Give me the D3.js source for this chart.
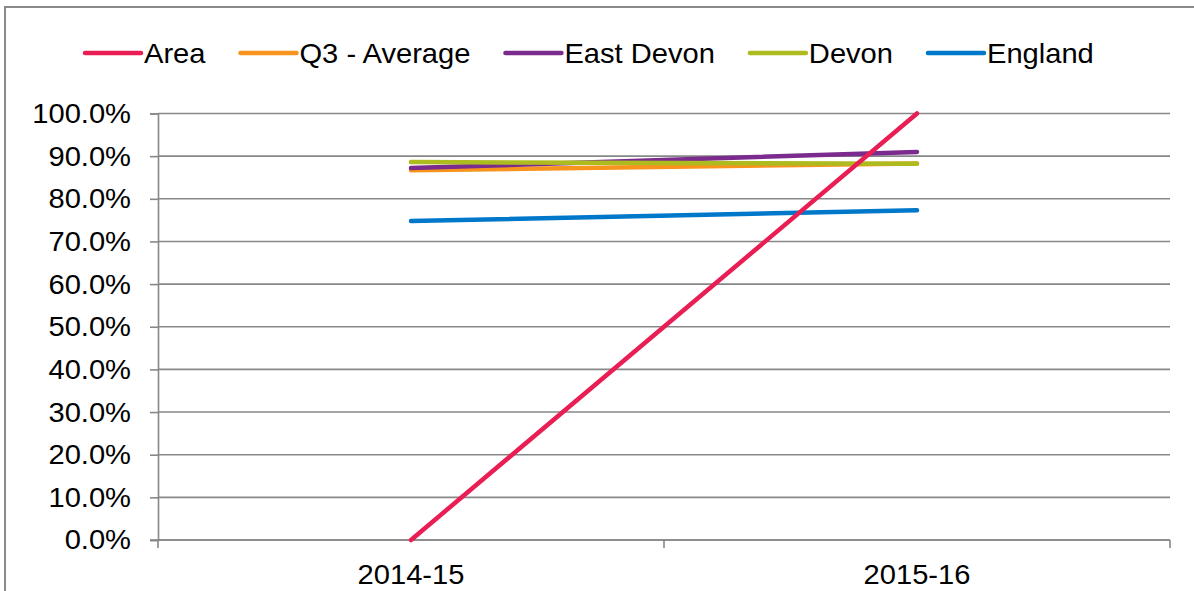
<!DOCTYPE html>
<html>
<head>
<meta charset="utf-8">
<script src="https://cdn.jsdelivr.net/npm/d3@7"></script>
<style>
html,body{margin:0;padding:0;background:#fff;}
svg{display:block;font-family:"Liberation Sans",Arial,sans-serif;}
</style>
</head>
<body>
<svg id="chart" width="1194" height="591"></svg>
<script>
const categories = ["2014-15", "2015-16"];
const seriesNames = ["Area", "Q3 - Average", "East Devon", "Devon", "England"];
const areaValues = [0.0, 1.0];
const q3AverageValues = [0.867, 0.883];
const eastDevonValues = [0.872, 0.910];
const devonValues = [0.886, 0.882];
const englandValues = [0.748, 0.773];
const yTicks = [0, 0.1, 0.2, 0.3, 0.4, 0.5, 0.6, 0.7, 0.8, 0.9, 1.0];
const colors = {"Area":"#E91E55","Q3 - Average":"#F7941D","East Devon":"#7B2A8E","Devon":"#AEBB1F","England":"#0078C9"};

(function(){
const series = [
  {name:"Area", values:areaValues},
  {name:"Q3 - Average", values:q3AverageValues},
  {name:"East Devon", values:eastDevonValues},
  {name:"Devon", values:devonValues},
  {name:"England", values:englandValues}
];
const drawOrder = ["Q3 - Average","East Devon","Devon","England","Area"];

const svg = d3.select("#chart");
const gridColor = "#878787";
const fontSize = 28;
const stretch = 1.04;

// outer frame
svg.append("rect").attr("x",5).attr("y",7).attr("width",1250).attr("height",700)
  .attr("fill","none").attr("stroke","#8a8a8a").attr("stroke-width",2);

const pLeft = 158, pRight = 1170, pTop = 113.5, pBottom = 540;
const x = d3.scaleBand().domain(categories).range([pLeft, pRight]).padding(0);
const y = d3.scaleLinear().domain([0,1]).range([pBottom, pTop]);

// gridlines
svg.append("g").selectAll("line").data(yTicks).join("line")
  .attr("x1", pLeft).attr("x2", pRight)
  .attr("y1", d=>y(d)).attr("y2", d=>y(d))
  .attr("stroke", gridColor).attr("stroke-width", 1.6);

// y axis
const yAxis = svg.append("g").attr("transform",`translate(${pLeft},0)`)
  .call(d3.axisLeft(y).tickValues(yTicks).tickFormat(d3.format(".1%")).tickSize(8).tickPadding(0));
yAxis.select(".domain").attr("stroke", gridColor).attr("stroke-width",1.6);
yAxis.selectAll(".tick line").attr("stroke", gridColor).attr("stroke-width",1.6);
yAxis.selectAll(".tick text").attr("font-size", fontSize).attr("fill","#000")
  .attr("x", null)
  .attr("transform", `translate(-27,0) scale(${stretch},1)`)
  .attr("font-family","Liberation Sans, Arial, sans-serif");

// x axis
const xAxis = svg.append("g").attr("transform",`translate(0,${pBottom})`)
  .call(d3.axisBottom(x).tickSize(0).tickPadding(24));
xAxis.select(".domain").remove();
xAxis.selectAll(".tick text").attr("font-size", fontSize).attr("fill","#000")
  .attr("transform", `scale(${stretch},1)`)
  .attr("font-family","Liberation Sans, Arial, sans-serif");
svg.append("line").attr("x1", pLeft-8).attr("x2", pRight).attr("y1", pBottom).attr("y2", pBottom)
  .attr("stroke", gridColor).attr("stroke-width", 1.6);
const boundaries = categories.map(c=>x(c)).concat([x(categories[categories.length-1]) + x.bandwidth()]);
svg.append("g").selectAll("line").data(boundaries).join("line")
  .attr("x1", d=>d).attr("x2", d=>d).attr("y1", pBottom).attr("y2", pBottom+8)
  .attr("stroke", gridColor).attr("stroke-width", 1.6);

// lines
const line = d3.line().x((d,i)=>x(categories[i]) + x.bandwidth()/2).y(d=>y(d));
svg.append("g").selectAll("path").data(drawOrder.map(n=>series.find(s=>s.name===n))).join("path")
  .attr("d", d=>line(d.values))
  .attr("fill","none").attr("stroke", d=>colors[d.name])
  .attr("stroke-width", 4.5).attr("stroke-linecap","round").attr("stroke-linejoin","round");

// legend
const legend = svg.append("g");
let lx = 85;
const ly = 53;
series.forEach(s=>{
  legend.append("line").attr("x1", lx).attr("x2", lx+56).attr("y1", ly).attr("y2", ly)
    .attr("stroke", colors[s.name]).attr("stroke-width", 4.5).attr("stroke-linecap","round");
  const t = legend.append("text").attr("transform", `translate(${lx+59},${ly}) scale(${stretch},1)`)
    .attr("dy","0.35em")
    .attr("font-size", fontSize).attr("fill","#000").text(s.name);
  const w = t.node().getComputedTextLength() * stretch;
  lx = lx + 59 + w + 35;
});
})();
</script>
</body>
</html>
